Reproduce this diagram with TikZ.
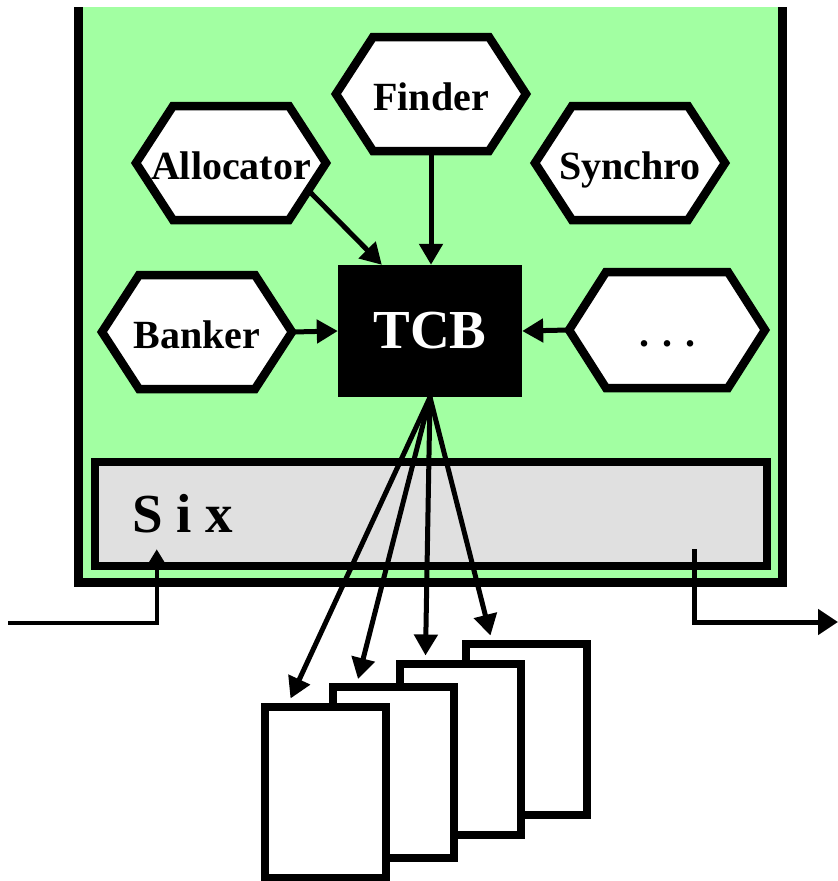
\documentclass[tikz,border=0pt]{standalone}
\usepackage{fontspec}
\setmainfont{Liberation Serif}
\usetikzlibrary{arrows.meta,calc}
\definecolor{bggreen}{HTML}{A2FFA2}
\definecolor{sixgray}{HTML}{E0E0E0}
\newcommand\hexat[6]{% name, x, y, half width, half height, text
  \draw[hexline] (#2-#4,#3) -- (#2-#4+37,#3-#5) -- (#2+#4-37,#3-#5) -- (#2+#4,#3)
     -- (#2+#4-37,#3+#5) -- (#2-#4+37,#3+#5) -- cycle;
  \node[hexnode, minimum width=2*#4 pt, minimum height=2*#5 pt] (#1) at (#2,#3) {#6};}
\begin{document}
\begin{tikzpicture}[x=1pt,y=-1pt,
  hexline/.style={line width=8.5pt, fill=white, line join=miter},
  hexnode/.style={rectangle, inner sep=0pt, font=\fontsize{40}{44}\selectfont\bfseries,
    text height=33pt, text depth=0pt},
  arr/.style={line width=5pt, -{Triangle[width=23pt,length=21pt]}},
  docbox/.style={rectangle, draw, line width=8pt, fill=white, minimum width=121pt,
    minimum height=171pt, inner sep=0pt},
  frameline/.style={line width=9pt},
]
\useasboundingbox (0,0) rectangle (838,881);
% green frame
\fill[bggreen] (78,7) rectangle (782,582);
\draw[frameline, line join=miter] (78,7) -- (78,582) -- (782,582) -- (782,7);
% Six box
\node[draw, line width=8.5pt, fill=sixgray, minimum width=672pt, minimum height=104pt,
  inner sep=0pt] (six) at (431,514) {};
\node[anchor=base west, inner sep=0pt, font=\fontsize{55}{60}\selectfont\bfseries]
  (sixlabel) at (132,532) {S i x};
% hexagons
\hexat{finder}{431}{94}{95}{57}{Finder}
\hexat{allocator}{231}{163}{95}{57}{Allocator}
\hexat{synchro}{630}{163}{95}{57}{Synchro}
\hexat{banker}{197}{332}{95}{57}{Banker}
\hexat{dots}{667}{330}{98}{58}{.\hspace{13pt}.\hspace{13pt}.}
% TCB
\node[fill=black, minimum width=184pt, minimum height=132pt, inner sep=0pt, text=white,
  font=\fontsize{55}{60}\selectfont\bfseries, text height=35pt, text depth=0pt]
  (tcb) at (430,331) {TCB};
% arrows into TCB
\draw[arr] (finder.south) -- (finder.south |- tcb.north);
\draw[arr] ($(allocator.center)+(79,29)$) -- ($(tcb.north west)+(44,0)$);
\draw[arr] (banker.east) -- (tcb.west);
\draw[arr] (dots.west) -- (tcb.east);
% documents
\node[docbox] (doc4) at (526,729) {};
\node[docbox] (doc3) at (460,749) {};
\node[docbox] (doc2) at (393.5,772.5) {};
\node[docbox] (doc1) at (325,792) {};
% fan arrows
\draw[arr] (tcb.south) -- ($(doc1.north west)+(30,-4)$);
\draw[arr] (tcb.south) -- ($(doc2.north west)+(29,-4)$);
\draw[arr] (tcb.south) -- ($(doc3.north west)+(30,-4)$);
\draw[arr] (tcb.south) -- ($(doc4.north west)+(29,-4)$);
% input / output
\coordinate (inL) at (8,623);
\coordinate (outR) at (838,622);
\draw[line width=4pt, line join=miter, -{Triangle[width=17pt,length=15pt]}]
  (inL) -| ($(six.south west)+(66,-21)$);
\draw[line width=5pt, line join=miter, -{Triangle[width=25pt,length=20pt]}]
  ($(six.south east)+(-77,-21)$) |- (outR);
\end{tikzpicture}
\end{document}
